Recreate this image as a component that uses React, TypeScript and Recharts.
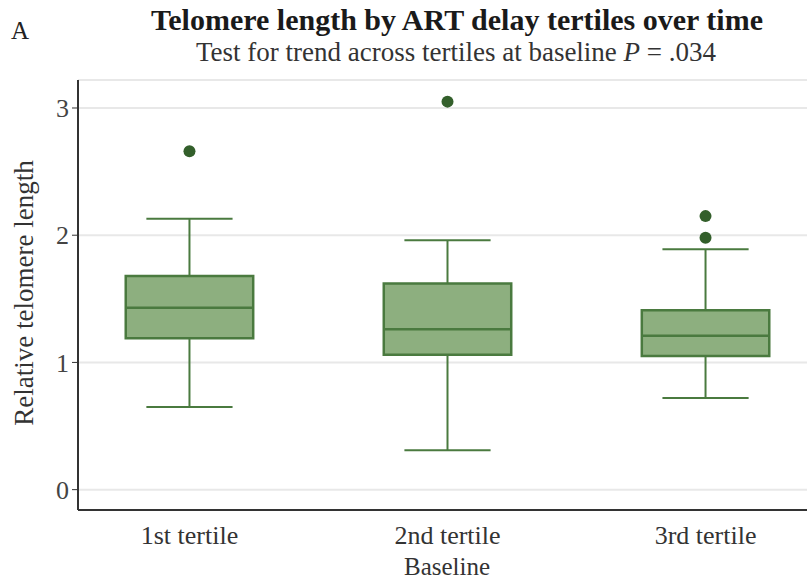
import {
  CartesianGrid,
  ComposedChart,
  ReferenceArea,
  ReferenceLine,
  Scatter,
  XAxis,
  YAxis,
} from "recharts";

const categories = ["1st tertile", "2nd tertile", "3rd tertile"];
const lowerWhisker = [0.65, 0.31, 0.72];
const q1 = [1.19, 1.06, 1.05];
const median = [1.43, 1.26, 1.21];
const q3 = [1.68, 1.62, 1.41];
const upperWhisker = [2.13, 1.96, 1.89];

const outlierGroup = [1, 2, 3, 3];
const outlierValue = [2.66, 3.05, 2.15, 1.98];

const yTicks = [0, 1, 2, 3];

const outliers = outlierGroup.map((g, i) => ({ x: g, y: outlierValue[i] }));

const FONT = '"Liberation Serif", "DejaVu Serif", serif';
const BOX_FILL = "#8daf7f";
const BOX_STROKE = "#4a7a3f";
const DOT = "#335f2b";
const BOX_HALF = 0.247;
const CAP_HALF = 0.167;

// outlier dot, a bit bigger than the default scatter symbol
const OutlierDot = (props: any) => (
  <circle cx={props.cx} cy={props.cy} r={6} fill={DOT} />
);

export default function App() {
  return (
    <div
      style={{
        position: "fixed",
        left: 0,
        top: 0,
        width: 807,
        height: 583,
        overflow: "hidden",
        background: "#fff",
        fontFamily: FONT,
      }}
    >
      <div style={{ position: "absolute", left: 11, top: 17, fontSize: 25, color: "#222" }}>A</div>
      <div
        style={{
          position: "absolute",
          left: 0,
          width: 914,
          top: 3,
          textAlign: "center",
          fontSize: 30,
          lineHeight: "34px",
          fontWeight: "bold",
          color: "#1a1a1a",
        }}
      >
        Telomere length by ART delay tertiles over time
      </div>
      <div
        style={{
          position: "absolute",
          left: 0,
          width: 912,
          top: 36,
          textAlign: "center",
          fontSize: 27,
          lineHeight: "32px",
          color: "#333",
        }}
      >
        Test for trend across tertiles at baseline <i>P</i> = .034
      </div>
      <div
        style={{
          position: "absolute",
          left: 24,
          top: 293,
          transform: "translate(-50%, -50%) rotate(-90deg)",
          whiteSpace: "nowrap",
          fontSize: 27,
          color: "#333",
        }}
      >
        Relative telomere length
      </div>
      <div
        style={{
          position: "absolute",
          left: 0,
          width: 894,
          top: 555,
          textAlign: "center",
          fontSize: 25,
          lineHeight: "24px",
          color: "#333",
        }}
      >
        Baseline
      </div>

      <ComposedChart
        width={830}
        height={583}
        margin={{ top: 80, right: 13, bottom: 0, left: 0 }}
        style={{ position: "absolute", left: 0, top: 0 }}
      >
        <CartesianGrid vertical={false} stroke="#e8e8e8" strokeWidth={2} />
        <XAxis
          type="number"
          dataKey="x"
          domain={[0.568, 3.432]}
          ticks={[1, 2, 3]}
          tickFormatter={(v) => categories[v - 1]}
          tickLine={false}
          tickSize={0}
          tickMargin={16}
          height={73}
          axisLine={{ stroke: "#333", strokeWidth: 2 }}
          tick={{ fontSize: 26, fill: "#333", fontFamily: FONT }}
        />
        <XAxis
          xAxisId="top"
          orientation="top"
          type="number"
          domain={[0.568, 3.432]}
          tick={false}
          tickLine={false}
          height={0}
          axisLine={{ stroke: "#777", strokeWidth: 2 }}
        />
        <YAxis
          type="number"
          dataKey="y"
          domain={[-0.16, 3.22]}
          ticks={yTicks}
          width={78}
          tickSize={6}
          tickMargin={3}
          axisLine={{ stroke: "#333", strokeWidth: 2 }}
          tickLine={{ stroke: "#333" }}
          tick={{ fontSize: 26, fill: "#444", fontFamily: FONT }}
        />

        {categories.map((c, i) => {
          const x = i + 1;
          return [
            <ReferenceLine
              key={c + "-up"}
              segment={[
                { x, y: q3[i] },
                { x, y: upperWhisker[i] },
              ]}
              stroke={BOX_STROKE}
              strokeWidth={2}
            />,
            <ReferenceLine
              key={c + "-down"}
              segment={[
                { x, y: lowerWhisker[i] },
                { x, y: q1[i] },
              ]}
              stroke={BOX_STROKE}
              strokeWidth={2}
            />,
            <ReferenceLine
              key={c + "-capup"}
              segment={[
                { x: x - CAP_HALF, y: upperWhisker[i] },
                { x: x + CAP_HALF, y: upperWhisker[i] },
              ]}
              stroke={BOX_STROKE}
              strokeWidth={2}
            />,
            <ReferenceLine
              key={c + "-capdown"}
              segment={[
                { x: x - CAP_HALF, y: lowerWhisker[i] },
                { x: x + CAP_HALF, y: lowerWhisker[i] },
              ]}
              stroke={BOX_STROKE}
              strokeWidth={2}
            />,
            <ReferenceArea
              key={c + "-box"}
              x1={x - BOX_HALF}
              x2={x + BOX_HALF}
              y1={q1[i]}
              y2={q3[i]}
              fill={BOX_FILL}
              fillOpacity={1}
              stroke={BOX_STROKE}
              strokeWidth={2.5}
            />,
            <ReferenceLine
              key={c + "-med"}
              segment={[
                { x: x - BOX_HALF, y: median[i] },
                { x: x + BOX_HALF, y: median[i] },
              ]}
              stroke={BOX_STROKE}
              strokeWidth={2.5}
            />,
          ];
        })}

        <Scatter data={outliers} shape={OutlierDot} isAnimationActive={false} />
      </ComposedChart>
    </div>
  );
}
